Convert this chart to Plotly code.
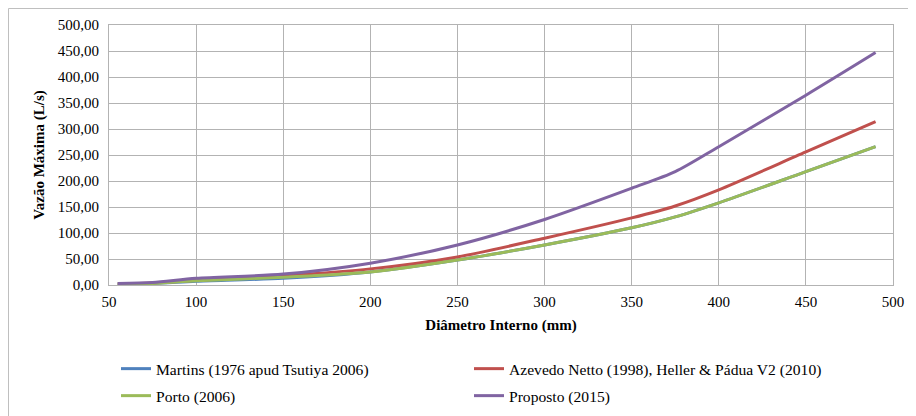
import plotly.graph_objects as go

# Data
diametro = [55, 75, 100, 150, 200, 250, 300, 350, 375, 400, 450, 490]
martins  = [2, 3, 7, 13, 25, 48, 77, 110, 131, 158, 218, 266]
azevedo  = [2, 4, 9, 18, 31, 54, 90, 129, 152, 183, 256, 314]
porto    = [2, 3, 8, 15, 25, 48, 77, 110, 131, 158, 218, 266]
proposto = [3, 5, 13, 21, 42, 77, 126, 186, 218, 266, 365, 447]

x_ticks = [50, 100, 150, 200, 250, 300, 350, 400, 450, 500]
y_ticks = [0, 50, 100, 150, 200, 250, 300, 350, 400, 450, 500]

names = ["Martins (1976 apud Tsutiya 2006)",
         "Azevedo Netto (1998), Heller & Pádua V2 (2010)",
         "Porto (2006)",
         "Proposto (2015)"]
colors = ["#4F81BD", "#C0504D", "#9BBB59", "#8064A2"]
series = [martins, azevedo, porto, proposto]
legends = ["legend", "legend", "legend2", "legend2"]

FONT = "Liberation Serif"

fig = go.Figure()
for name, col, vals, lg in zip(names, colors, series, legends):
    fig.add_trace(go.Scatter(
        x=diametro, y=vals, mode="lines", name=name,
        line=dict(color=col, width=3, shape="spline", smoothing=0.8),
        legend=lg,
    ))

# page body has an 8px margin, so the figure sits at (8, 8) in the window
OFF = 8
W, H = 916 - OFF, 416 - OFF
PX0, PX1, PY0, PY1 = 109, 893, 25, 285   # plot area in window pixels
L, R = PX0 - OFF, W - (PX1 - OFF)
T, B = PY0 - OFF, H - (PY1 - OFF)
pw = PX1 - PX0
ph = PY1 - PY0

def px(wx):
    return (wx - PX0) / pw

def py(wy):
    return (PY1 - wy) / ph

legend_common = dict(
    orientation="h", xanchor="left", yanchor="middle",
    font=dict(family=FONT, size=15.6, color="#000000"),
    entrywidth=308, entrywidthmode="pixels",
    bgcolor="rgba(0,0,0,0)", borderwidth=0,
    itemwidth=30, traceorder="normal",
)

fig.update_layout(
    width=W, height=H,
    margin=dict(l=L, r=R, t=T, b=B, autoexpand=False),
    paper_bgcolor="white", plot_bgcolor="white",
    separators=",.",
    font=dict(family=FONT, size=15, color="#000000"),
    showlegend=True,
    legend=dict(x=px(116), y=py(369), **legend_common),
    legend2=dict(x=px(116), y=py(396), **legend_common),
    xaxis=dict(
        range=[50, 500], tickvals=x_ticks, ticktext=[str(v) for v in x_ticks],
        showgrid=True, gridcolor="#B3B3B3", gridwidth=1,
        showline=True, linecolor="#B3B3B3", linewidth=1, mirror=True,
        ticks="", zeroline=False, ticklabelstandoff=3, automargin=False,
        tickfont=dict(family=FONT, size=15),
        title=dict(text="<b>Diâmetro Interno (mm)</b>",
                   font=dict(family=FONT, size=15), standoff=10),
    ),
    yaxis=dict(
        range=[0, 500], tickvals=y_ticks, tickformat=".2f",
        showgrid=True, gridcolor="#B3B3B3", gridwidth=1,
        showline=True, linecolor="#B3B3B3", linewidth=1, mirror=True,
        ticks="", zeroline=False, ticklabelstandoff=6, automargin=False,
        tickfont=dict(family=FONT, size=15),
        title=dict(text="<b>Vazão Máxima (L/s)</b>",
                   font=dict(family=FONT, size=15), standoff=9),
    ),
    shapes=[
        dict(type="line", xref="paper", yref="paper",
             x0=px(8.5), x1=px(916), y0=py(8.5), y1=py(8.5),
             line=dict(color="#BFBFBF", width=1)),
        dict(type="line", xref="paper", yref="paper",
             x0=px(8.5), x1=px(8.5), y0=py(8.5), y1=py(416),
             line=dict(color="#BFBFBF", width=1)),
    ],
)

fig.write_html("out.html")
